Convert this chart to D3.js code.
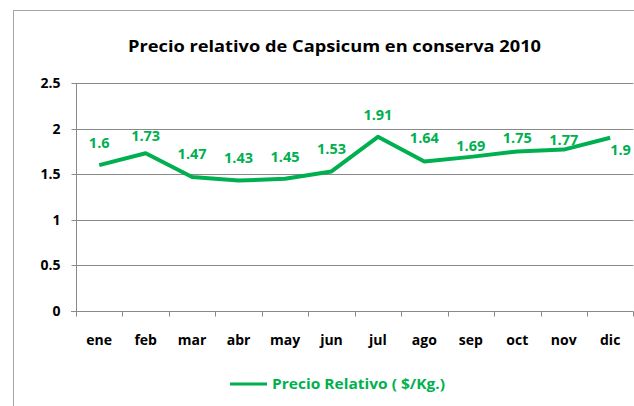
<!DOCTYPE html>
<html>
<head>
<meta charset="utf-8">
<script src="https://cdn.jsdelivr.net/npm/d3@7"></script>
<style>
  html, body { margin: 0; padding: 0; background: #ffffff; }
  svg { display: block; }
  text { font-family: "Open Sans", Lato, sans-serif; font-weight: bold; }
</style>
</head>
<body>
<svg id="chart" width="634" height="406"></svg>
<script>
// Monthly relative price of canned Capsicum, 2010
const months = ["ene", "feb", "mar", "abr", "may", "jun", "jul", "ago", "sep", "oct", "nov", "dic"];
const precio = [1.6, 1.73, 1.47, 1.43, 1.45, 1.53, 1.91, 1.64, 1.69, 1.75, 1.77, 1.9];
const yTicks = [0, 0.5, 1, 1.5, 2, 2.5];
const titleText = "Precio relativo de Capsicum en conserva 2010";
const seriesName = "Precio Relativo ( $/Kg.)";

const GREEN = "#00b050";
const GRID = "#898989";
const AXIS_FONT = 14;
const LABEL_FONT = 14.5;

const svg = d3.select("#chart");

// outer chart frame
svg.append("rect")
  .attr("x", 13.5).attr("y", 10.5)
  .attr("width", 700).attr("height", 500)
  .attr("fill", "none").attr("stroke", "#a6a6a6").attr("stroke-width", 1);

const plot = { left: 76, right: 633.4, top: 83, bottom: 311 };

const x = d3.scaleBand().domain(months).range([plot.left, plot.right]).padding(0);
const y = d3.scaleLinear().domain([0, 2.5]).range([plot.bottom, plot.top]);

// title
svg.append("text")
  .attr("x", 128).attr("y", 52)
  .attr("font-size", 16.5)
  .attr("textLength", 413).attr("lengthAdjust", "spacingAndGlyphs")
  .attr("fill", "#000")
  .text(titleText);

// horizontal gridlines
svg.append("g")
  .selectAll("line")
  .data(yTicks.filter(d => d > 0))
  .join("line")
  .attr("x1", plot.left).attr("x2", plot.right)
  .attr("y1", d => Math.round(y(d)) + 0.5).attr("y2", d => Math.round(y(d)) + 0.5)
  .attr("stroke", GRID).attr("stroke-width", 1);

// y axis
const yAxis = svg.append("g")
  .attr("transform", `translate(${plot.left + 0.5},0)`)
  .call(d3.axisLeft(y).tickValues(yTicks).tickSize(5).tickPadding(11).tickFormat(d3.format("")));
yAxis.selectAll("path, line").attr("stroke", GRID);
yAxis.select(".domain").attr("d", `M0,${Math.round(y(2.5)) + 0.5}V${Math.round(y(0)) + 0.5}`);
yAxis.selectAll("text")
  .attr("font-size", AXIS_FONT).attr("fill", "#000")
  .attr("font-family", "'Open Sans', sans-serif").attr("font-weight", "bold");
yAxis.selectAll(".tick").attr("transform", d => `translate(0,${Math.round(y(d)) + 0.5})`);

// x axis with ticks at category boundaries
const xAxisG = svg.append("g").attr("transform", `translate(0,${Math.round(plot.bottom) + 0.5})`);
xAxisG.append("line")
  .attr("x1", plot.left - 5).attr("x2", plot.right)
  .attr("stroke", GRID);
const bounds = months.map(m => x(m)).concat([x(months[months.length - 1]) + x.bandwidth()]);
xAxisG.selectAll("line.tk")
  .data(bounds)
  .join("line").attr("class", "tk")
  .attr("x1", d => Math.round(d) + 0.5).attr("x2", d => Math.round(d) + 0.5)
  .attr("y1", 0).attr("y2", 5)
  .attr("stroke", GRID);
xAxisG.selectAll("text")
  .data(months)
  .join("text")
  .attr("x", d => x(d) + x.bandwidth() / 2)
  .attr("y", 33)
  .attr("text-anchor", "middle")
  .attr("font-size", AXIS_FONT).attr("fill", "#000")
  .text(d => d);

// price line
const pts = months.map((m, i) => ({ m, v: precio[i] }));
const line = d3.line()
  .x(d => x(d.m) + x.bandwidth() / 2)
  .y(d => y(d.v));
svg.append("path")
  .datum(pts)
  .attr("d", line)
  .attr("fill", "none")
  .attr("stroke", GREEN)
  .attr("stroke-width", 4)
  .attr("stroke-linejoin", "round");

// value labels: above each point, the last one beside it
const labelLift = [22, 17, 23, 23, 22, 22, 22, 23, 11, 13, 10, 0];
svg.append("g")
  .selectAll("text")
  .data(pts)
  .join("text")
  .attr("x", d => x(d.m) + x.bandwidth() / 2)
  .attr("y", (d, i) => i === pts.length - 1 ? y(d.v) + 17 : y(d.v) - labelLift[i] + 5)
  .attr("text-anchor", (d, i) => i === pts.length - 1 ? "start" : "middle")
  .attr("font-size", LABEL_FONT)
  .attr("fill", GREEN)
  .text(d => d.v);

// legend
const lg = svg.append("g");
lg.append("line")
  .attr("x1", 230).attr("x2", 267)
  .attr("y1", 384).attr("y2", 384)
  .attr("stroke", GREEN).attr("stroke-width", 3);
lg.append("text")
  .attr("x", 272).attr("y", 389)
  .attr("font-size", AXIS_FONT)
  .attr("textLength", 173).attr("lengthAdjust", "spacingAndGlyphs")
  .attr("fill", GREEN)
  .text(seriesName);
</script>
</body>
</html>
